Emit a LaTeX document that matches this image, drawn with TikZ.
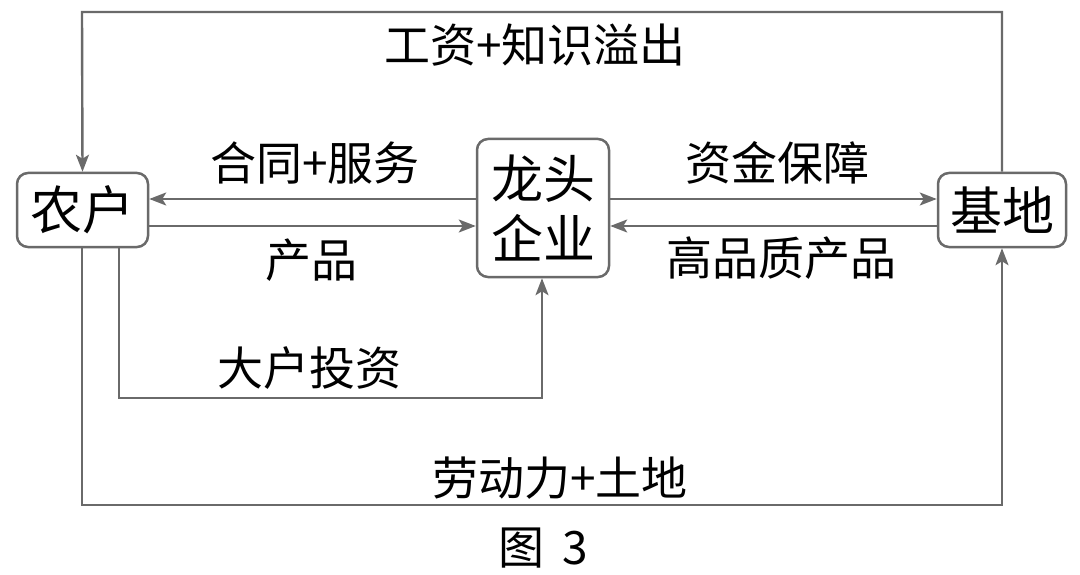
\documentclass[tikz,border=0pt]{standalone}
\usepackage{fontspec}
\newfontfamily\cjk{Noto Sans CJK SC}
\usetikzlibrary{arrows.meta}
\definecolor{ln}{HTML}{6A6A6A}
\tikzset{
  box/.style={draw=ln, line width=2.5pt, rounded corners=11pt, inner sep=0pt, align=center,
     font=\cjk\fontsize{52}{60}\selectfont},
  lbl/.style={inner sep=0pt, font=\cjk\fontsize{46}{54}\selectfont},
  conn/.style={draw=ln, line width=2.4pt},
  arr/.style={conn, -{Stealth[length=17pt,width=13pt,inset=4pt]}},
}
\begin{document}
\begin{tikzpicture}[x=1pt,y=-1pt]
\useasboundingbox (0,0) rectangle (1080,575);
\node[box, minimum width=131pt, minimum height=74pt] (nh) at (82.5,210) {农户};
\node[box, minimum width=132pt, minimum height=138pt] (lt) at (543,208) {龙头\\企业};
\node[box, minimum width=128pt, minimum height=74pt] (jd) at (1002,210) {基地};
\coordinate (tl) at (82,12);
\coordinate (tr) at (1002,12);
\coordinate (bl) at (82,505);
\coordinate (br) at (1002,505);
\coordinate (ml) at (119,398);
\coordinate (mr) at (542,398);
% top loop
\draw[arr] (jd.north) -- (tr) -- (tl) -- (nh.north);
% bottom loop
\draw[arr] (nh.south -| bl) -- (bl) -- (br) -- (jd.south);
% big household investment
\draw[arr] (nh.south -| ml) -- (ml) -- (mr) -- (lt.south -| mr);
% horizontal arrows
\draw[arr] ([yshift=9pt]lt.west) -- ([yshift=9pt]lt.west -| nh.east);
\draw[arr] ([yshift=-18pt]lt.west -| nh.east) -- ([yshift=-18pt]lt.west);
\draw[arr] ([yshift=9pt]lt.east) -- ([yshift=9pt]lt.east -| jd.west);
\draw[arr] ([yshift=-18pt]lt.east -| jd.west) -- ([yshift=-18pt]lt.east);
% labels
\node[lbl] (l1) at (535,45) {工资+知识溢出};
\node[lbl] (l2) at (315,163) {合同+服务};
\node[lbl] (l3) at (311,260) {产品};
\node[lbl] (l4) at (777,163) {资金保障};
\node[lbl] (l5) at (781,258) {高品质产品};
\node[lbl] (l6) at (309,368) {大户投资};
\node[lbl] (l7) at (560,478) {劳动力+土地};
\node[lbl] (cap) at (543,548) {图\hspace{18pt}3};
\end{tikzpicture}
\end{document}
